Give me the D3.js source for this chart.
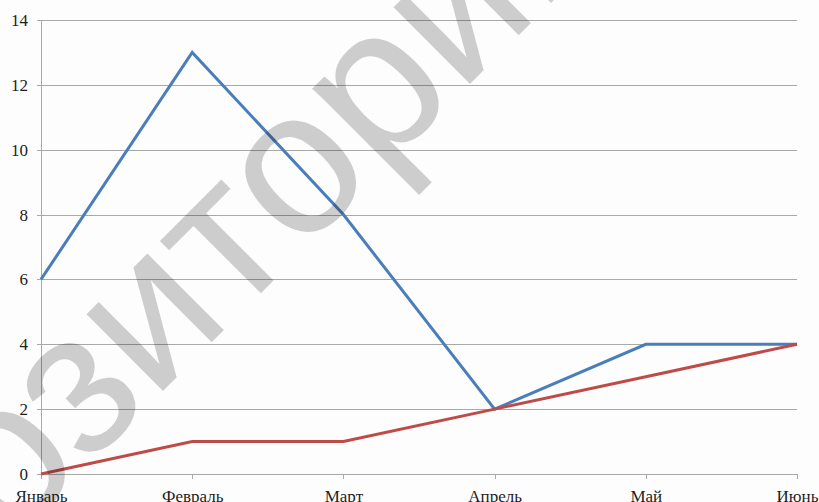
<!DOCTYPE html>
<html>
<head>
<meta charset="utf-8">
<script src="https://cdn.jsdelivr.net/npm/d3@7"></script>
<style>
  html, body { margin: 0; padding: 0; background: #fdfdfd; }
  svg { display: block; }
</style>
</head>
<body>
<script>
// Monthly values for two series
const months = ["Январь", "Февраль", "Март", "Апрель", "Май", "Июнь"];
const seriesBlue = [6, 13, 8, 2, 4, 4];
const seriesRed = [0, 1, 1, 2, 3, 4];
const yTicks = [0, 2, 4, 6, 8, 10, 12, 14];
const watermarkText = "Репозиторий";

const W = 819, H = 502;
const plotLeft = 41, plotRight = 797, plotTop = 20, plotBottom = 474;
const axisGrey = "#a8a8a8";
const labelFont = '"Liberation Serif", "Times New Roman", "DejaVu Serif", serif';

const svg = d3.select("body").append("svg")
  .attr("width", W).attr("height", H);

svg.append("rect").attr("width", W).attr("height", H).attr("fill", "#fdfdfd");

const x = d3.scalePoint().domain(months).range([plotLeft, plotRight]).padding(0);
const y = d3.scaleLinear().domain([0, 14]).range([plotBottom, plotTop]);

// Horizontal gridlines with short outer ticks and value labels
const yAxis = d3.axisLeft(y).tickValues(yTicks).tickSize(-(plotRight - plotLeft)).tickSizeOuter(0).tickPadding(13);
const gy = svg.append("g").attr("transform", `translate(${plotLeft},0)`).call(yAxis)
  .attr("font-family", null).style("font-family", labelFont);
gy.select(".domain").remove();
gy.selectAll(".tick line").attr("stroke", axisGrey).attr("stroke-width", 1)
  .attr("x1", -4).attr("shape-rendering", "crispEdges");
gy.selectAll(".tick text")
  .style("font-family", labelFont)
  .attr("font-size", 17).attr("fill", "#1e1e1e");

// Vertical axis line
svg.append("line")
  .attr("x1", plotLeft).attr("x2", plotLeft).attr("y1", plotTop).attr("y2", plotBottom)
  .attr("stroke", axisGrey).attr("shape-rendering", "crispEdges");

// Category axis
const xAxis = d3.axisBottom(x).tickSize(5).tickSizeOuter(0).tickPadding(10);
const gx = svg.append("g").attr("transform", `translate(0,${plotBottom})`).call(xAxis)
  .attr("font-family", null).style("font-family", labelFont);
gx.select(".domain").attr("stroke", axisGrey).attr("shape-rendering", "crispEdges");
gx.selectAll(".tick line").attr("stroke", axisGrey).attr("shape-rendering", "crispEdges");
gx.selectAll(".tick text")
  .style("font-family", labelFont)
  .attr("font-size", 17).attr("fill", "#1e1e1e")
  .attr("dy", "0.71em").attr("y", 16);

// Series lines
const line = d3.line().x((d, i) => x(months[i])).y(d => y(d));
svg.append("path").datum(seriesBlue)
  .attr("d", line).attr("fill", "none")
  .attr("stroke", "#4a7ebb").attr("stroke-width", 3).attr("stroke-linejoin", "miter");
svg.append("path").datum(seriesRed)
  .attr("d", line).attr("fill", "none")
  .attr("stroke", "#be4b48").attr("stroke-width", 3).attr("stroke-linejoin", "miter");

// Diagonal watermark over the chart
svg.append("text")
  .attr("transform", "translate(190,364) rotate(-45)")
  .attr("text-anchor", "middle")
  .style("font-family", '"Liberation Sans", Arial, sans-serif')
  .attr("font-size", 205)
  .attr("fill", "#000").attr("fill-opacity", 0.19)
  .text(watermarkText);
</script>
</body>
</html>
